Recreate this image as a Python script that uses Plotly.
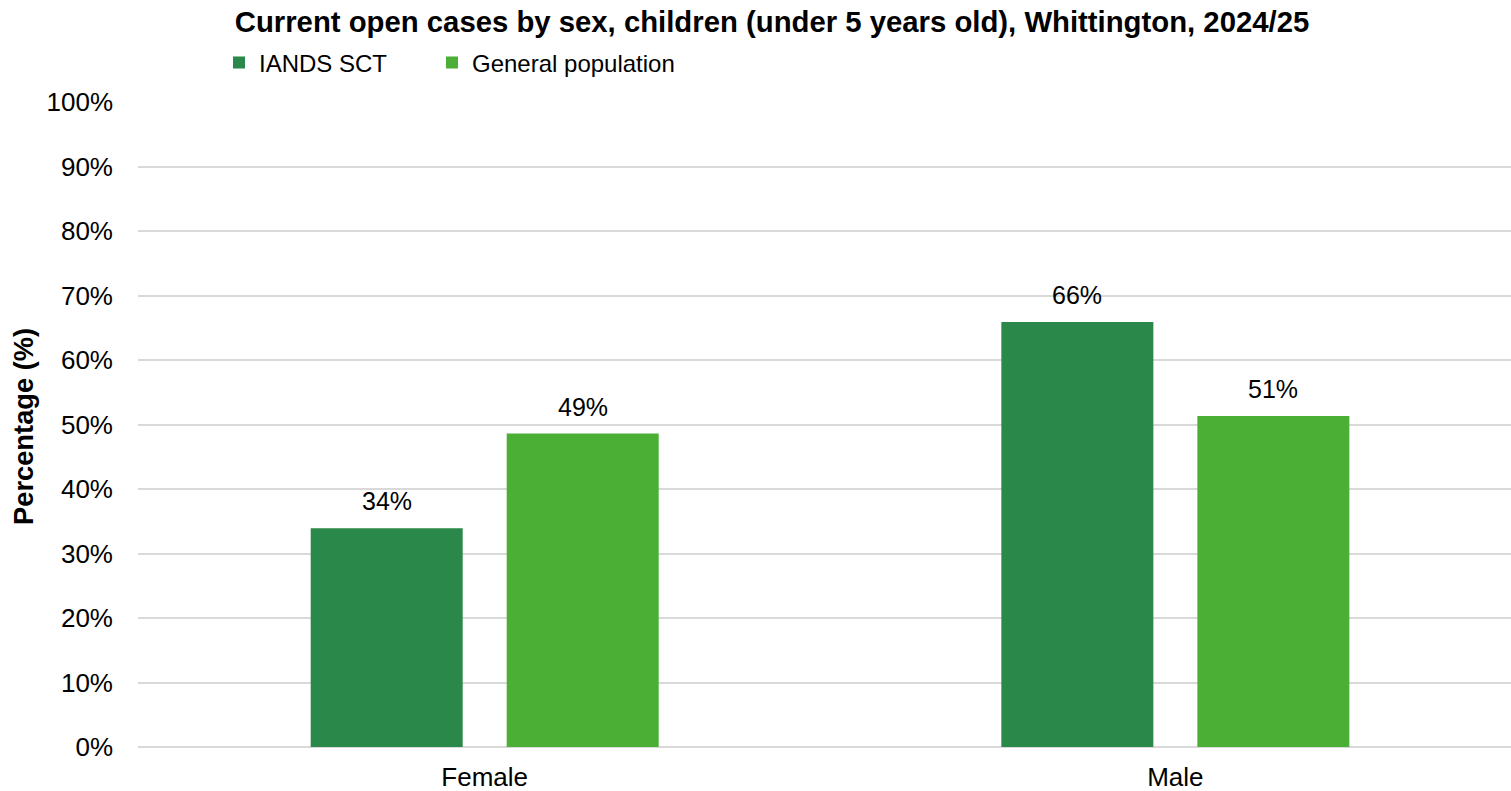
import plotly.graph_objects as go

categories = ["Female", "Male"]
series_names = ["IANDS SCT", "General population"]
iands_sct = [33.9, 65.9]
general_population = [48.6, 51.3]
y_ticks = [0, 10, 20, 30, 40, 50, 60, 70, 80, 90, 100]
y_tick_labels = [f"{v}%" for v in y_ticks]

colors = ["#2A884A", "#4BAE35"]
FONT = "Liberation Sans, Arial, sans-serif"

W, H = 1511, 791
L, R, T, B = 138, 0, 102, 44
PW, PH = W - L - R, H - T - B

fig = go.Figure()
for name, vals, col, lg in zip(series_names, [iands_sct, general_population], colors, ["legend", "legend2"]):
    fig.add_trace(go.Bar(
        x=categories, y=vals, name=name,
        marker=dict(color=col, line=dict(width=0)),
        hoverinfo="skip", legend=lg,
    ))

# data labels above bars
for vals, shift in zip([iands_sct, general_population], [-98, 98]):
    for c, v in zip(categories, vals):
        fig.add_annotation(
            x=c, y=v, xref="x", yref="y", text=f"{v:.0f}%",
            showarrow=False, xshift=shift, yshift=27, yanchor="middle",
            font=dict(family=FONT, size=25, color="#000000"),
        )

# y axis title
fig.add_annotation(
    x=-(L - 23) / PW, y=0.5 - (427 - (T + PH / 2)) / PH, xref="paper", yref="paper",
    text="<b>Percentage (%)</b>", textangle=-90, showarrow=False,
    xanchor="center", yanchor="middle",
    font=dict(family=FONT, size=27.3, color="#000000"),
)

legend_common = dict(
    orientation="h", xanchor="left",
    y=1 + (T - 63) / PH, yanchor="middle",
    font=dict(family=FONT, size=24, color="#000000"),
    bgcolor="rgba(0,0,0,0)",
)

fig.update_layout(
    width=W, height=H,
    margin=dict(l=L, r=R, t=T, b=B, pad=0),
    paper_bgcolor="white", plot_bgcolor="white",
    barmode="group", bargap=0.4324, bargroupgap=0.2245,
    title=dict(
        text="<b>Current open cases by sex, children (under 5 years old), Whittington, 2024/25</b>",
        x=772 / W, xref="container", xanchor="center",
        y=1 - 22 / H, yref="container", yanchor="middle",
        font=dict(family=FONT, size=29.3, color="#000000"),
    ),
    legend=dict(x=(219 - L) / PW, **legend_common),
    legend2=dict(x=(432 - L) / PW, **legend_common),
    showlegend=True,
    xaxis=dict(
        type="category", range=[-0.502, 1.486],
        showgrid=False, showline=False, zeroline=False,
        ticks="", ticklabelstandoff=12,
        tickfont=dict(family=FONT, size=26, color="#000000"),
        fixedrange=True,
    ),
    yaxis=dict(
        range=[0, 100], tickvals=y_ticks, ticktext=y_tick_labels,
        showgrid=True, gridcolor="#D9D9D9", gridwidth=1.5,
        zeroline=True, zerolinecolor="#D9D9D9", zerolinewidth=1.5,
        showline=False, ticks="", ticklabelstandoff=24,
        tickfont=dict(family=FONT, size=26, color="#000000"),
        fixedrange=True,
    ),
)

fig.write_html("out.html")
